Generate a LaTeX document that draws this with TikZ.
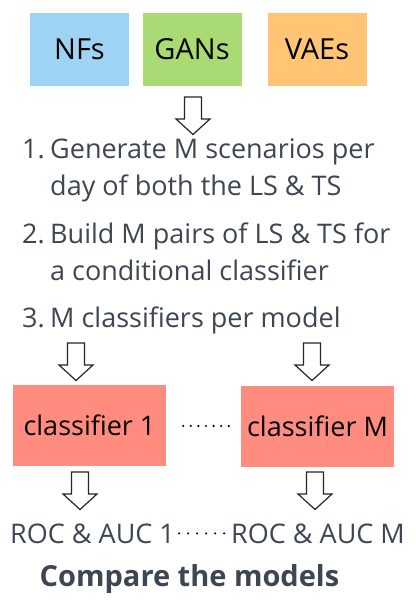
\documentclass[tikz,border=0pt]{standalone}
\usepackage{fontspec}
\setmainfont{Open Sans}
\usetikzlibrary{positioning}

\definecolor{nfcol}{HTML}{9ED3F3}
\definecolor{gancol}{HTML}{A9DA74}
\definecolor{vaecol}{HTML}{FFC574}
\definecolor{clscol}{HTML}{FF8C7E}
\definecolor{txtcol}{HTML}{3D4652}

\begin{document}
\begin{tikzpicture}[x=1pt,y=-1pt,
  model/.style={minimum width=99pt,minimum height=73pt,inner sep=0pt,
    font=\fontsize{29}{34}\selectfont},
  cls/.style={fill=clscol,minimum width=153pt,minimum height=81pt,inner sep=0pt,
    font=\fontsize{27}{32}\selectfont},
  item/.style={anchor=base west,inner sep=0pt,text=txtcol,
    font=\fontsize{27}{32}\selectfont},
  roc/.style={anchor=base west,inner sep=0pt,text=txtcol,
    font=\fontsize{27}{32}\selectfont},
  blockarrow/.style={draw=black!85,line width=1.2pt,fill=white},
  dotline/.style={line width=2.4pt,line cap=round,dash pattern=on 0pt off 7.6pt}]

\fill[white] (0,0) rectangle (415,607);
\useasboundingbox (0,0) rectangle (415,607);

% the three models
\node[model,fill=nfcol]  (nfs)  at (79.5,49.5) {NFs};
\node[model,fill=gancol] (gans) at (192,49.5)  {GANs};
\node[model,fill=vaecol] (vaes) at (317,49.5)  {VAEs};

% steps
\node[item] (n1)  at (22,158) {1.};
\node[item] (t1)  at (50,158) {Generate M scenarios per};
\node[item] (t1b) at (50,195) {day of both the LS \& TS};
\node[item] (n2)  at (22,243) {2.};
\node[item] (t2)  at (50,243) {Build M pairs of LS \& TS for};
\node[item] (t2b) at (50,280) {a conditional classifier};
\node[item] (n3)  at (22,327) {3.};
\node[item] (t3)  at (50,327) {M classifiers per model};

% classifiers
\node[cls] (cls1) at (89.5,425.5) {classifier 1};
\node[cls] (clsM) at (317.5,426.5) {classifier M};
\draw[dotline,shorten <=17pt,shorten >=12pt] (cls1) -- (clsM);

% results
\node[roc] (roc1) at (10,543)  {ROC \& AUC 1};
\node[roc] (rocM) at (231,543) {ROC \& AUC M};
\draw[dotline,dash pattern=on 0pt off 9pt,shorten <=4pt,shorten >=3pt] (roc1) -- (rocM);

\node[anchor=base,inner sep=0pt,text=txtcol,font=\bfseries\fontsize{29}{34}\selectfont]
  (cmp) at (189.5,586) {Compare the models};

% block arrows
\coordinate (a0) at (193,97);
\coordinate (a1) at (76,343);
\coordinate (a2) at (312,343);
\coordinate (a3) at (80,472);
\coordinate (a4) at (315,472);
\foreach \p in {a0,a1,a2,a3,a4}
{
\draw[blockarrow] (\p) ++(-8.5,0) -- ++(0,22) -- ++(-8.5,0) -- ++(17,15.5)
  -- ++(17,-15.5) -- ++(-8.5,0) -- ++(0,-22) -- cycle;
}

\end{tikzpicture}
\end{document}
